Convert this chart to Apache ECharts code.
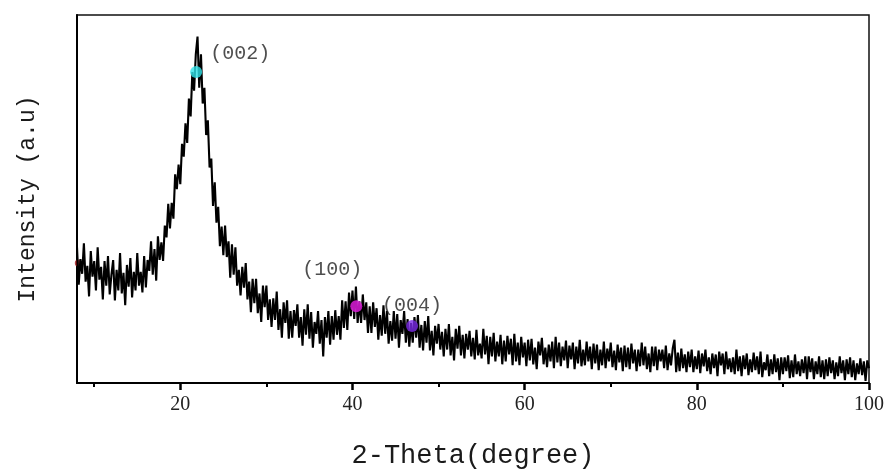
<!DOCTYPE html>
<html>
<head>
<meta charset="utf-8">
<script src="https://cdn.jsdelivr.net/npm/echarts@6/dist/echarts.min.js"></script>
<style>
html,body{margin:0;padding:0;background:#fff;}
#chart{width:889px;height:474px;}
</style>
</head>
<body>
<div id="chart"></div>
<script>
// 2-Theta sampling (degrees)
const thetaStart = 8;
const thetaStep = 0.2;
// Intensity (a.u.), one row per degree (5 samples each)
const intensity = [
138,100,126,111,142,
103,119,88,134,108,
124,94,138,105,118,
85,124,99,129,90,
110,125,84,115,94,
132,91,112,79,120,
98,127,87,113,94,
132,99,113,92,129,
97,125,114,144,110,
136,104,149,125,143,
124,160,148,182,157,
183,167,212,197,222,
202,243,230,264,244,
289,271,316,297,334,
352,300,334,284,300,
252,267,219,228,180,
204,163,179,139,159,
130,160,128,144,107,
141,110,138,99,115,
89,118,97,122,85,
103,72,106,81,106,
71,91,62,99,77,
99,64,85,57,86,
64,93,54,75,46,
82,61,84,45,73,
46,74,58,80,46,
67,38,75,49,80,
45,72,36,62,50,
73,40,64,27,67,
46,73,39,68,44,
74,49,68,44,84,
56,83,54,92,68,
94,65,98,61,83,
61,90,64,82,51,
78,51,82,57,76,
44,69,48,79,50,
73,40,63,43,73,
45,70,36,64,50,
73,41,65,37,61,
41,67,46,69,36,
59,33,63,41,68,
33,53,28,58,40,
60,34,52,27,55,
34,60,28,47,23,
55,35,58,28,49,
25,50,34,53,27,
46,24,54,28,40,
25,55,29,48,19,
47,27,51,22,42,
27,49,19,43,22,
48,29,45,18,50,
22,41,18,47,26,
41,17,44,23,45,
19,36,14,42,28,
46,19,36,16,39,
22,42,15,47,21,
41,17,37,23,43,
15,38,24,41,14,
37,20,44,17,34,
18,42,22,37,14,
40,20,39,13,34,
18,42,15,35,22,
41,16,33,13,39,
21,36,12,38,16,
36,14,40,20,34,
12,34,17,41,18,
37,14,30,11,37,
17,37,13,34,22,
34,15,38,13,30,
18,35,44,11,31,
12,35,15,29,11,
32,16,34,11,27,
14,33,10,30,17,
34,12,26,9,30,
15,29,7,32,18,
30,9,32,14,25,
11,26,9,34,12,
27,7,28,14,30,
8,24,11,31,13,
27,9,32,6,21,
13,29,7,24,9,
29,11,25,3,26,
9,26,12,28,5,
23,6,29,9,22,
7,24,10,27,4,
27,11,25,4,22,
9,27,6,23,4,
24,7,26,10,23,
4,21,7,27,10,
23,3,24,9,26,
6,23,3,20,9,
25,8,22,2,23,
15
];
// Marked peaks
const peakTheta = [21.84, 40.44, 46.92];
const peakIntensity = [316, 78, 58];
const peakLabels = ['(002)', '(100)', '(004)'];
// small mark at the left edge
const edgeTheta = [8.15];
const edgeIntensity = [122];
// axis ticks
const xLabelValues = [20, 40, 60, 80, 100];
const xMinorValues = [10, 30, 50, 70, 90];

const lineData = intensity.map((v, i) => [+(thetaStart + i * thetaStep).toFixed(1), v]);

const peakColors = ['#2fe3ea', '#e81ee6', '#7b2be6'];
const labelOffsets = [[44, -18], [-24, -37], [0, -20]];
const peakData = peakTheta.map((t, i) => ({
  value: [t, peakIntensity[i]],
  itemStyle: { color: peakColors[i] },
  label: {
    show: true,
    formatter: peakLabels[i],
    position: 'inside',
    offset: labelOffsets[i],
    fontFamily: 'Liberation Mono',
    fontSize: 20,
    color: '#222'
  }
}));

const chart = echarts.init(document.getElementById('chart'), null, { renderer: 'canvas' });
chart.setOption({
  animation: false,
  backgroundColor: '#fff',
  grid: {
    left: 77, right: 20, top: 15, bottom: 85,
    show: true, borderColor: '#111', borderWidth: 1.5
  },
  xAxis: [{
    type: 'value', min: 8, max: 100,
    name: '2-Theta(degree)', nameLocation: 'middle', nameGap: 59,
    nameTextStyle: { fontFamily: 'Liberation Mono', fontSize: 27, color: '#1a1a1a' },
    axisLine: { show: true, onZero: false, lineStyle: { color: '#000', width: 2 } },
    axisTick: { show: true, inside: false, length: 7, customValues: xLabelValues, lineStyle: { color: '#000', width: 2.5 } },
    axisLabel: { customValues: xLabelValues, margin: 12, fontFamily: 'Liberation Serif', fontSize: 20, color: '#222' },
    splitLine: { show: false }
  }, {
    type: 'value', min: 8, max: 100, position: 'bottom', gridIndex: 0,
    axisLine: { show: false },
    axisTick: { show: true, inside: false, length: 4, customValues: xMinorValues, lineStyle: { color: '#000', width: 2 } },
    axisLabel: { show: false },
    splitLine: { show: false }
  }],
  yAxis: {
    type: 'value', min: 0, max: 374,
    name: 'Intensity (a.u)', nameLocation: 'middle', nameGap: 38,
    nameTextStyle: { fontFamily: 'Liberation Mono', fontSize: 23, color: '#1a1a1a' },
    axisLine: { show: true, lineStyle: { color: '#000', width: 2 } },
    axisTick: { show: false },
    axisLabel: { show: false },
    splitLine: { show: false }
  },
  series: [{
    type: 'line',
    data: lineData,
    showSymbol: false,
    symbol: 'none',
    lineStyle: { color: '#000', width: 2.1 },
    z: 2,
    silent: true
  }, {
    type: 'scatter',
    data: peakData,
    symbolSize: 12,
    z: 3
  }, {
    type: 'scatter',
    data: edgeTheta.map((t, i) => [t, edgeIntensity[i]]),
    symbolSize: 7,
    itemStyle: { color: '#a3161a' },
    z: 1
  }]
});
</script>
</body>
</html>
